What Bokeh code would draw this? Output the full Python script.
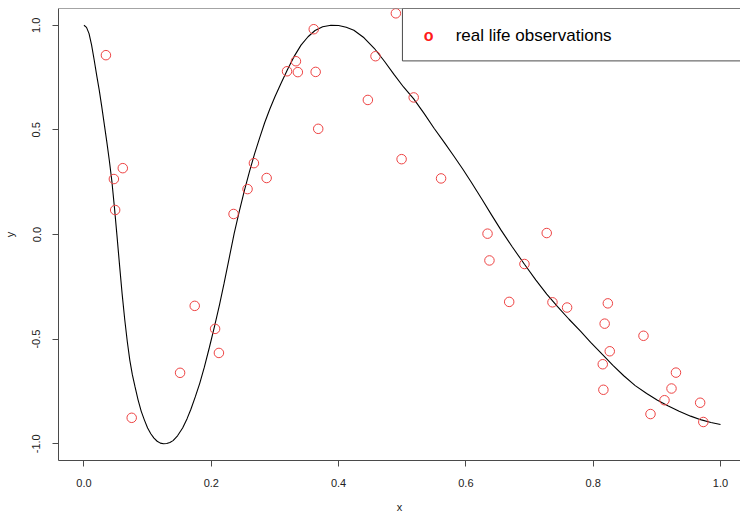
from bokeh.plotting import figure
from bokeh.models import Range1d, FixedTicker, NumeralTickFormatter, Span
from bokeh.core.properties import value
from bokeh.embed import file_html
from bokeh.resources import INLINE

obs_x = [0.0345, 0.047, 0.061, 0.049, 0.075, 0.151, 0.174, 0.206, 0.212, 0.235,
         0.257, 0.267, 0.287, 0.319, 0.333, 0.336, 0.364, 0.361, 0.368, 0.446,
         0.458, 0.490, 0.499, 0.518, 0.561, 0.634, 0.637, 0.668, 0.692, 0.727,
         0.736, 0.759, 0.815, 0.816, 0.818, 0.823, 0.826, 0.879, 0.890, 0.912,
         0.923, 0.930, 0.968, 0.973]
obs_y = [0.857, 0.265, 0.317, 0.117, -0.876, -0.661, -0.341, -0.451, -0.566, 0.098,
         0.217, 0.341, 0.270, 0.780, 0.828, 0.776, 0.777, 0.981, 0.505, 0.643,
         0.852, 1.057, 0.360, 0.655, 0.268, 0.004, -0.124, -0.322, -0.141, 0.007,
         -0.324, -0.349, -0.620, -0.742, -0.426, -0.329, -0.558, -0.484, -0.858, -0.792,
         -0.736, -0.660, -0.804, -0.896]

# true curve
curve_x = [0.000, 0.004, 0.008, 0.012, 0.016, 0.020, 0.024, 0.028, 0.032, 0.036,
           0.040, 0.044, 0.048, 0.052, 0.056, 0.060, 0.064, 0.068, 0.072, 0.076,
           0.080, 0.085, 0.090, 0.095, 0.100, 0.105, 0.110, 0.115, 0.120, 0.125,
           0.130, 0.135, 0.140, 0.147, 0.155, 0.162, 0.168, 0.175, 0.182, 0.189,
           0.197, 0.205, 0.213, 0.220, 0.228, 0.236, 0.244, 0.252, 0.260, 0.268,
           0.276, 0.284, 0.292, 0.300, 0.310, 0.320, 0.330, 0.341, 0.352, 0.363,
           0.375, 0.388, 0.400, 0.412, 0.424, 0.440, 0.456, 0.472, 0.487, 0.502,
           0.518, 0.534, 0.550, 0.566, 0.581, 0.595, 0.608, 0.625, 0.640, 0.655,
           0.673, 0.692, 0.710, 0.727, 0.744, 0.762, 0.780, 0.796, 0.814, 0.831,
           0.848, 0.866, 0.884, 0.901, 0.918, 0.935, 0.953, 0.970, 0.985, 1.000]
curve_y = [1.000, 0.990, 0.960, 0.905, 0.835, 0.760, 0.690, 0.610, 0.525, 0.440,
           0.350, 0.250, 0.125, -0.010, -0.150, -0.285, -0.405, -0.510, -0.600, -0.670,
           -0.725, -0.790, -0.845, -0.887, -0.925, -0.952, -0.973, -0.988, -0.997, -1.000,
           -0.999, -0.994, -0.985, -0.962, -0.925, -0.880, -0.835, -0.775, -0.710, -0.635,
           -0.540, -0.440, -0.335, -0.235, -0.115, 0.005, 0.110, 0.210, 0.300, 0.385,
           0.462, 0.535, 0.600, 0.658, 0.725, 0.790, 0.850, 0.905, 0.945, 0.975,
           0.993, 1.000, 0.999, 0.990, 0.976, 0.940, 0.890, 0.828, 0.765, 0.705,
           0.648, 0.580, 0.508, 0.440, 0.375, 0.313, 0.252, 0.170, 0.095, 0.022,
           -0.060, -0.142, -0.218, -0.285, -0.345, -0.405, -0.462, -0.515, -0.572, -0.625,
           -0.675, -0.722, -0.760, -0.792, -0.820, -0.845, -0.868, -0.886, -0.898, -0.908]

x_ticks = [0.0, 0.2, 0.4, 0.6, 0.8, 1.0]
y_ticks = [-1.0, -0.5, 0.0, 0.5, 1.0]
legend_labels = ["real life observations"]

FONT = "Liberation Sans"
AX = "#4a4a4a"

p = figure(width=740, height=516,
           x_range=Range1d(-0.04, 1.0314), y_range=Range1d(-1.08, 1.08),
           output_backend="svg", toolbar_location=None,
           min_border_left=57, min_border_right=0, min_border_top=8, min_border_bottom=56,
           outline_line_color=None, background_fill_color="white")
p.xgrid.visible = False
p.ygrid.visible = False

for ax in (p.xaxis[0], p.yaxis[0]):
    ax.axis_line_color = AX
    ax.axis_line_width = 1
    ax.major_tick_line_color = AX
    ax.major_tick_in = 0
    ax.major_tick_out = 6
    ax.minor_tick_line_color = None
    ax.major_label_text_font = FONT
    ax.major_label_text_font_size = "11px"
    ax.major_label_text_color = "#222222"
    ax.axis_label_text_font = FONT
    ax.axis_label_text_font_size = "11px"
    ax.axis_label_text_font_style = "normal"
    ax.axis_label_text_color = "#222222"
    ax.formatter = NumeralTickFormatter(format="0.0")

p.xaxis.ticker = FixedTicker(ticks=x_ticks)
p.yaxis.ticker = FixedTicker(ticks=y_ticks)
p.xaxis.axis_label = "x"
p.yaxis.axis_label = "y"
p.xaxis.major_label_standoff = 12
p.xaxis.axis_label_standoff = 11
p.yaxis.major_label_standoff = 12
p.yaxis.axis_label_standoff = 14
p.yaxis.major_label_orientation = "vertical"

p.add_layout(Span(location=1.08, dimension="width", line_color=AX, line_width=1))

p.line(curve_x, curve_y, line_color="black", line_width=1.1)
p.scatter(obs_x, obs_y, marker="circle", size=9.5, fill_color=None,
          line_color="#ee4444", line_width=1)

# legend box
p.quad(left=[0.5003], right=[1.2], top=[1.08], bottom=[0.8296],
       fill_color="white", line_color=AX, line_width=1)
p.text(x=[0.5416], y=[0.952], text=["o"], text_font=value(FONT), text_font_style="bold",
       text_font_size="16px", text_color="#ff1a1a", text_align="center", text_baseline="middle")
p.text(x=[0.584], y=[0.952], text=legend_labels, text_font=value(FONT),
       text_font_size="17px", text_color="black", text_align="left", text_baseline="middle")

open("out.html", "w").write(file_html(p, INLINE))
